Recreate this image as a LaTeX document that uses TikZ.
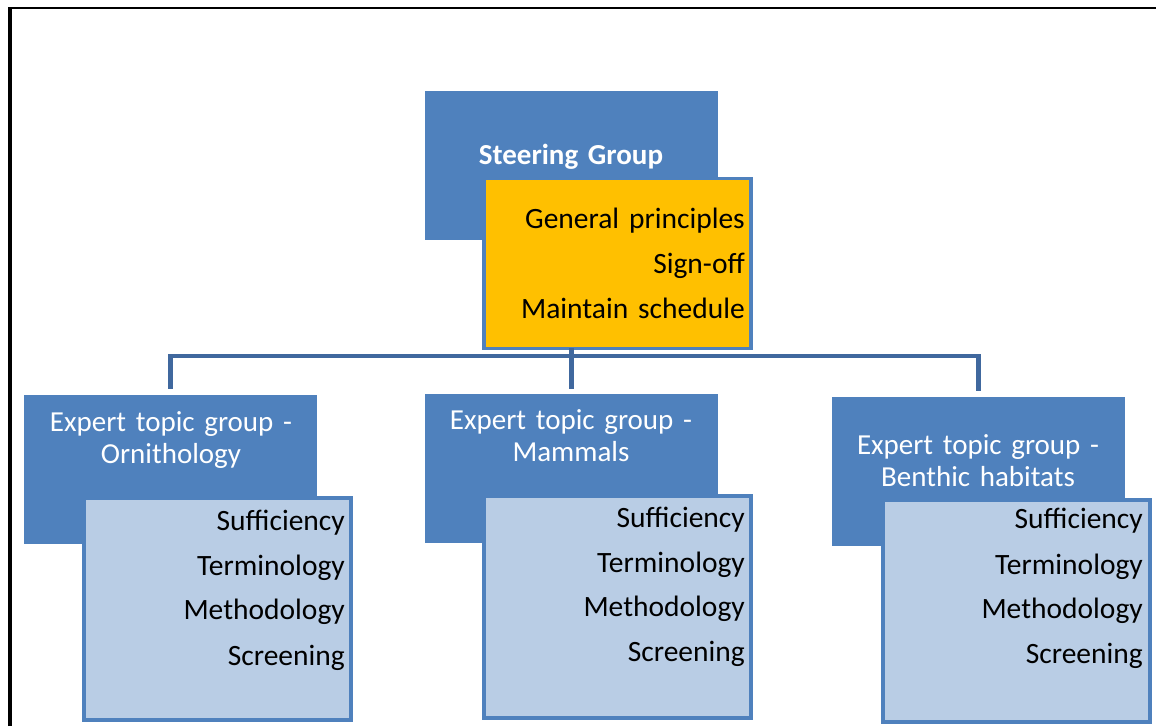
\documentclass[tikz,border=0pt]{standalone}
\usepackage{fontspec}
\setmainfont{Carlito}
\usetikzlibrary{calc}

\definecolor{groupblue}{RGB}{79,129,189}
\definecolor{tasklight}{RGB}{185,205,229}
\definecolor{taskorange}{RGB}{255,192,0}
\definecolor{linkblue}{RGB}{64,104,158}

\begin{document}
\begin{tikzpicture}[
    x=1pt, y=1pt,
    groupbox/.style={rectangle, fill=groupblue, minimum width=293pt, minimum height=149pt, inner sep=0pt, outer sep=0pt},
    taskbox/.style={rectangle, draw=groupblue, line width=3.5pt, minimum width=267pt, inner sep=0pt, outer sep=0pt},
    grouptext/.style={text=white, text width=290pt, align=center, font=\fontsize{29}{32}\selectfont, inner sep=0pt},
    tasktext/.style={text width=260pt, align=right, font=\fontsize{29.5}{45}\selectfont, inner sep=0pt},
    link/.style={draw=linkblue, line width=4.5pt}
]
\useasboundingbox (0,0) rectangle (1156,726);

% Frame
\draw[line width=4pt] (10,0) -- (10,718);
\draw[line width=2.5pt] (8,718) -- (1156,718);

% Steering group
\node[groupbox] (steerbox) at (571.5,560.5) {};
\node[grouptext, font=\fontsize{29}{32}\selectfont\bfseries, anchor=base] (steername) at (571,561) {Steering Group};
\node[taskbox, fill=taskorange, minimum height=170pt] (steerlist) at (617.5,462.5) {};
\node[tasktext, anchor=base east] (steertasks) at (745,497) {General principles\\Sign-off\\Maintain schedule};

% Expert topic groups
\node[groupbox] (ornbox) at (170.5,256.5) {};
\node[grouptext, anchor=base] (ornname) at (171,294) {Expert topic group -\\Ornithology};
\node[taskbox, fill=tasklight, minimum height=222pt] (ornlist) at (217.5,117) {};
\node[tasktext, anchor=base east] (orntasks) at (345,196) {Sufficiency\\Terminology\\Methodology\\Screening};

\node[groupbox] (mambox) at (571.5,257.5) {};
\node[grouptext, anchor=base] (mamname) at (571,296) {Expert topic group -\\Mammals};
\node[taskbox, fill=tasklight, minimum height=222pt] (mamlist) at (617.5,119) {};
\node[tasktext, anchor=base east] (mamtasks) at (745,199) {Sufficiency\\Terminology\\Methodology\\Screening};

\node[groupbox] (benbox) at (978.5,254.5) {};
\node[grouptext, anchor=base] (benname) at (978,271) {Expert topic group -\\Benthic habitats};
\node[taskbox, fill=tasklight, minimum height=222pt] (benlist) at (1016.5,115) {};
\node[tasktext, anchor=base east] (bentasks) at (1143,197) {Sufficiency\\Terminology\\Methodology\\Screening};

% Connectors
\coordinate (bus) at (0,370);
\draw[link] (steerbox.south |- steerlist.south) -- (steerbox.south |- bus);
\draw[link] ([yshift=6pt]ornbox.north) -- (ornbox.north |- bus) -- (benbox.north |- bus) -- ([yshift=6pt]benbox.north);
\draw[link] ([yshift=5pt]mambox.north) -- (mambox.north |- bus);

\end{tikzpicture}
\end{document}
